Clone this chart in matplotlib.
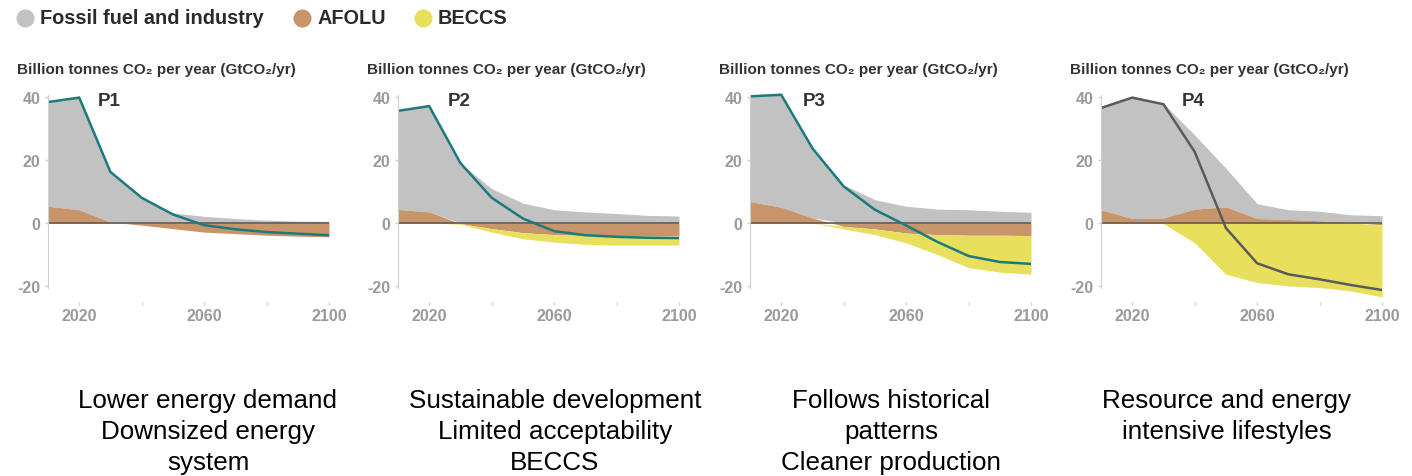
import matplotlib.pyplot as plt
from matplotlib.lines import Line2D
import numpy as np

plt.rcParams['axes.unicode_minus'] = False

years = [2010, 2020, 2030, 2040, 2050, 2060, 2070, 2080, 2090, 2100]

# CO2 by source per pathway (GtCO2/yr): fossil fuel & industry, AFOLU, BECCS, net
fossil_p1 = [33.1, 35.6, 15.9, 8.1, 3.2, 2.1, 1.4, 0.9, 0.6, 0.5]
afolu_p1 = [5.3, 4.2, 0.3, -0.7, -1.8, -2.9, -3.4, -3.9, -4.2, -4.4]
beccs_p1 = [0, 0, 0, 0, 0, 0, 0, 0, 0, 0]
net_p1 = [38.4, 39.8, 16.2, 8.0, 2.7, -0.7, -2.0, -2.9, -3.4, -3.9]

fossil_p2 = [31.3, 33.6, 19.0, 10.9, 6.3, 4.2, 3.5, 3.0, 2.4, 2.2]
afolu_p2 = [4.3, 3.5, -0.2, -1.8, -3.1, -3.7, -4.0, -4.1, -4.1, -4.1]
beccs_p2 = [0, 0, -0.2, -1.1, -1.9, -2.4, -2.8, -2.9, -2.9, -2.9]
net_p2 = [35.6, 37.1, 19.0, 8.0, 1.4, -2.6, -3.9, -4.4, -4.7, -4.8]

fossil_p3 = [33.4, 35.7, 22.1, 12.1, 7.4, 5.3, 4.4, 4.2, 3.7, 3.4]
afolu_p3 = [6.8, 5.0, 1.6, -1.1, -1.9, -3.2, -3.7, -3.9, -3.9, -4.0]
beccs_p3 = [0, 0, 0, -0.8, -1.8, -3.1, -6.3, -10.3, -11.7, -12.3]
net_p3 = [40.2, 40.7, 23.7, 11.6, 4.2, -0.8, -6.0, -10.5, -12.4, -13.0]

fossil_p4 = [32.3, 38.4, 36.3, 23.5, 12.3, 4.7, 3.1, 3.0, 2.4, 2.3]
afolu_p4 = [4.2, 1.4, 1.6, 4.4, 5.1, 1.4, 1.1, 0.7, 0.2, -0.6]
beccs_p4 = [0, 0, -0.2, -6.3, -16.3, -18.9, -20.0, -20.5, -21.6, -22.9]
net_p4 = [36.5, 39.8, 37.7, 22.6, -1.6, -12.8, -16.3, -17.9, -19.7, -21.3]

panels = ['P1', 'P2', 'P3', 'P4']
fossil = [fossil_p1, fossil_p2, fossil_p3, fossil_p4]
afolu = [afolu_p1, afolu_p2, afolu_p3, afolu_p4]
beccs = [beccs_p1, beccs_p2, beccs_p3, beccs_p4]
net = [net_p1, net_p2, net_p3, net_p4]
captions = ['Lower energy demand\nDownsized energy\nsystem',
            'Sustainable development\nLimited acceptability\nBECCS',
            'Follows historical\npatterns\nCleaner production',
            'Resource and energy\nintensive lifestyles']
legend_names = ['Fossil fuel and industry', 'AFOLU', 'BECCS']

c_fossil = '#c2c2c2'
c_afolu = '#c8956a'
c_beccs = '#e8e05c'
net_colors = ['#1d7a7c', '#1d7a7c', '#1d7a7c', '#5a5a5a']

sans = ['Liberation Sans', 'DejaVu Sans']

W, H = 1412, 477
fig = plt.figure(figsize=(W / 100, H / 100), dpi=100)

lefts = [48, 398, 750, 1101]
ax_w = 281
ax_top, ax_bot = 92, 303
label_year = [2026, 2026, 2027, 2036]
caption_x = [208, 555, 891, 1227]
for i in range(4):
    ax = fig.add_axes([lefts[i] / W, 1 - ax_bot / H, ax_w / W, (ax_bot - ax_top) / H])
    yr = np.array(years, dtype=float)
    a = np.array(afolu[i])
    f = np.array(fossil[i])
    b = np.array(beccs[i])
    apos = np.clip(a, 0, None)
    aneg = np.clip(a, None, 0)
    ax.fill_between(yr, apos, apos + f, color=c_fossil, lw=0)
    ax.fill_between(yr, 0, a, color=c_afolu, lw=0, interpolate=True)
    ax.fill_between(yr, aneg, aneg + b, color=c_beccs, lw=0)
    ax.axhline(0, color='#6b6058', lw=1.3)
    ax.plot(yr, net[i], color=net_colors[i], lw=1.8, solid_joinstyle='miter')

    ax.set_xlim(2010, 2100)
    ax.set_ylim(-25.1, 41.9)
    ax.set_yticks([-20, 0, 20, 40])
    ax.set_xticks([2020, 2040, 2060, 2080, 2100])
    ax.set_xticklabels(['2020', '', '2060', '', '2100'])
    for s in ['top', 'right', 'bottom']:
        ax.spines[s].set_visible(False)
    ax.spines['left'].set_color('#cfcfcf')
    ax.spines['left'].set_bounds(-20.5, 40.5)
    ax.tick_params(colors='#cfcfcf', labelcolor='#9a9a9a', length=2.5, width=1)
    ax.tick_params(axis='x', pad=1.5)
    ax.tick_params(axis='y', pad=3)
    for lab in ax.get_xticklabels() + ax.get_yticklabels():
        lab.set_family(sans)
        lab.set_fontsize(11.5)
        lab.set_fontweight('bold')
    ax.text(label_year[i], 38.8, panels[i], fontsize=13.5, fontweight='bold',
            color='#333333', va='center', ha='left', family=sans)

    fig.text((lefts[i] - 31) / W, 1 - 70 / H, 'Billion tonnes CO₂ per year (GtCO₂/yr)',
             fontsize=11, fontweight='bold', color='#333333', va='center',
             ha='left', family=sans)

    fig.text(caption_x[i] / W, 1 - 389 / H, captions[i], fontsize=18.7,
             ha='center', va='top', linespacing=1.38, family='Liberation Sans',
             color='black')

# legend row along the top
leg_x = [25, 302, 423]
leg_colors = [c_fossil, c_afolu, c_beccs]
for x, c, name in zip(leg_x, leg_colors, legend_names):
    fig.add_artist(Line2D([x / W], [1 - 19 / H], marker='o', markersize=13,
                          color=c, markeredgewidth=0, transform=fig.transFigure))
    fig.text((x + 15) / W, 1 - 19 / H, name, fontsize=14.3, color='#2a2a2a',
             va='center', ha='left', family=sans, fontweight='bold')

fig.savefig('out.png', dpi=100)
